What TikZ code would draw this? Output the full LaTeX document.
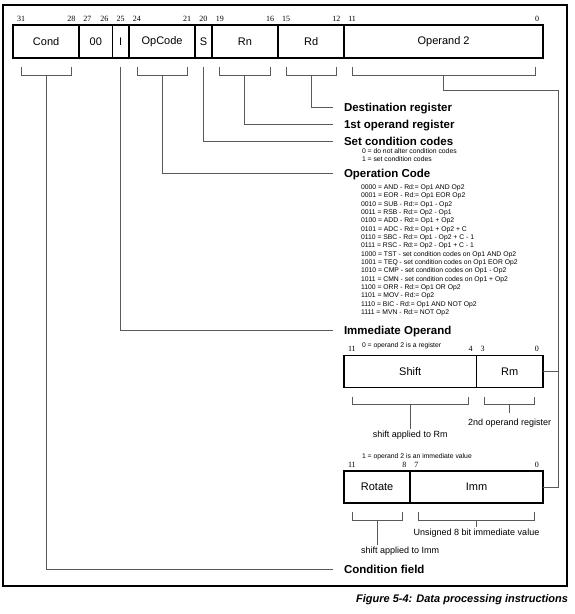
\documentclass[tikz,border=0pt]{standalone}
\usepackage{fontspec}
\setmainfont{Liberation Sans}
\newfontfamily\bitfont{Liberation Serif}
\usetikzlibrary{positioning,calc}

% bracket under a field, with a named coordinate at its middle
\newcommand{\fieldbrace}[2]{%
  \draw[leader] ([xshift=8pt,yshift=-9pt]#1.south west) -- ++(0pt,-8pt)
    -- ([xshift=-8pt,yshift=-17pt]#1.south east) -- ++(0pt,8pt);
  \coordinate (#2) at ([yshift=-17pt]#1.south)}
% bit numbers over a field
\newcommand{\bitnums}[3]{%
  \node[bitnum,anchor=base west] (#1hi) at ([xshift=4pt,yshift=4pt]#1.north west) {#2};
  \node[bitnum,anchor=base east] (#1lo) at ([xshift=-4pt,yshift=4pt]#1.north east) {#3}}

\begin{document}
\begin{tikzpicture}[
  x=1pt,y=-1pt,
  every node/.style={inner sep=0pt,outer sep=0pt},
  field/.style={draw,line width=1.6pt,minimum height=33pt,font=\fontsize{11}{13}\selectfont},
  bitnum/.style={font=\bitfont\fontsize{8}{9}\selectfont},
  title/.style={anchor=west,font=\bfseries\fontsize{11.5}{13}\selectfont,text height=8.5pt,text depth=0.5pt},
  small/.style={anchor=north west,align=left,font=\fontsize{6.8}{8.33}\selectfont},
  note/.style={font=\fontsize{9}{11}\selectfont},
  leader/.style={draw=black!65,line width=0.8pt}
]
\useasboundingbox (0,0) rectangle (574,614);
\draw[line width=1.8pt] (3,5) rectangle (567,586);

% Instruction word
\node[field,minimum width=66.25pt,anchor=north west] (cond) at (13,25) {Cond};
\node[field,minimum width=33.125pt,right=0pt of cond] (zero) {00};
\node[field,minimum width=16.5625pt,right=0pt of zero] (ibit) {I};
\node[field,minimum width=66.25pt,right=0pt of ibit] (opcode) {OpCode};
\node[field,minimum width=16.5625pt,right=0pt of opcode] (sbit) {S};
\node[field,minimum width=66.25pt,right=0pt of sbit] (rn) {Rn};
\node[field,minimum width=66.25pt,right=0pt of rn] (rd) {Rd};
\node[field,minimum width=198.75pt,right=0pt of rd] (op2) {Operand 2};

\bitnums{cond}{31}{28};
\bitnums{zero}{27}{26};
\node[bitnum,anchor=base] (ibitnum) at ([yshift=4pt]ibit.north) {25};
\bitnums{opcode}{24}{21};
\node[bitnum,anchor=base] (sbitnum) at ([yshift=4pt]sbit.north) {20};
\bitnums{rn}{19}{16};
\bitnums{rd}{15}{12};
\bitnums{op2}{11}{0};

\fieldbrace{cond}{condstem};
\fieldbrace{opcode}{opstem};
\fieldbrace{rn}{rnstem};
\fieldbrace{rd}{rdstem};
\fieldbrace{op2}{op2stem};
\coordinate (istem) at ([yshift=-9pt]ibit.south);
\coordinate (sstem) at ([yshift=-9pt]sbit.south);

% Labels
\node[title] (dest) at (344,107) {Destination register};
\node[title] (first) at (344,124.5) {1st operand register};
\node[title] (setcc) at (344,141) {Set condition codes};
\node[small] (setcclist) at (362,148.5) {0 = do not alter condition codes\\1 = set condition codes};
\node[title] (opname) at (344,173) {Operation Code};
\node[small] (oplist) at (361,184.5) {0000 = AND - Rd:= Op1 AND Op2\\
0001 = EOR - Rd:= Op1 EOR Op2\\
0010 = SUB - Rd:= Op1 - Op2\\
0011 = RSB - Rd:= Op2 - Op1\\
0100 = ADD - Rd:= Op1 + Op2\\
0101 = ADC - Rd:= Op1 + Op2 + C\\
0110 = SBC - Rd:= Op1 - Op2 + C - 1\\
0111 = RSC - Rd:= Op2 - Op1 + C - 1\\
1000 = TST - set condition codes on Op1 AND Op2\\
1001 = TEQ - set condition codes on Op1 EOR Op2\\
1010 = CMP - set condition codes on Op1 - Op2\\
1011 = CMN - set condition codes on Op1 + Op2\\
1100 = ORR - Rd:= Op1 OR Op2\\
1101 = MOV - Rd:= Op2\\
1110 = BIC - Rd:= Op1 AND NOT Op2\\
1111 = MVN - Rd:= NOT Op2};
\node[title] (immop) at (344,330) {Immediate Operand};
\node[title] (cfld) at (344,569) {Condition field};

\draw[leader] (rdstem) |- ([xshift=-11pt]dest.west);
\draw[leader] (rnstem) |- ([xshift=-11pt]first.west);
\draw[leader] (sstem) |- ([xshift=-11pt]setcc.west);
\draw[leader] (opstem) |- ([xshift=-11pt]opname.west);
\draw[leader] (istem) |- ([xshift=-11pt]immop.west);
\draw[leader] (condstem) |- ([xshift=-11pt]cfld.west);

% Operand 2 as a register
\node[small] (regtxt) at (362,342.5) {0 = operand 2 is a register};
\node[field,minimum width=132.5pt,minimum height=32pt,anchor=north west] (shift) at (344,355.5) {Shift};
\node[field,minimum width=66.25pt,minimum height=32pt,right=0pt of shift] (rm) {Rm};
\bitnums{shift}{11}{4};
\bitnums{rm}{3}{0};
\fieldbrace{shift}{shiftstem};
\fieldbrace{rm}{rmstem};
\node[note,anchor=north] (shiftnote) at ([yshift=-26pt]shiftstem) {shift applied to Rm};
\node[note,anchor=north] (rmnote) at ([yshift=-14pt]rmstem) {2nd operand register};
\draw[leader] (shiftstem) -- ([yshift=2pt]shiftnote.north);
\draw[leader] (rmstem) -- ([yshift=6pt]rmstem |- rmnote.north);

% Operand 2 as an immediate value
\node[small] (immtxt) at (362,453.5) {1 = operand 2 is an immediate value};
\node[field,minimum width=66.25pt,minimum height=32pt,anchor=north west] (rot) at (344,471) {Rotate};
\node[field,minimum width=132.5pt,minimum height=32pt,right=0pt of rot] (immv) {Imm};
\bitnums{rot}{11}{8};
\bitnums{immv}{7}{0};
\fieldbrace{rot}{rotstem};
\fieldbrace{immv}{immstem};
\node[note,anchor=north west] (rotnote) at (361,547) {shift applied to Imm};
\node[note,anchor=north] (immnote) at ([yshift=-9pt]immstem) {Unsigned 8 bit immediate value};
\draw[leader] (rotstem) -- ([yshift=2pt]rotstem |- rotnote.north);
\draw[leader] (immstem) -- ([yshift=2pt]immstem |- immnote.north);

% Operand 2 bus
\coordinate (bus) at (558,90);
\draw[leader] (op2stem) |- (bus) |- (immv.east);
\draw[leader] (rm.east) -- (rm.east -| bus);

\node[anchor=east,font=\bfseries\itshape\fontsize{11}{13}\selectfont] (caption) at (568,600) {Figure 5-4: Data processing instructions};
\end{tikzpicture}
\end{document}
